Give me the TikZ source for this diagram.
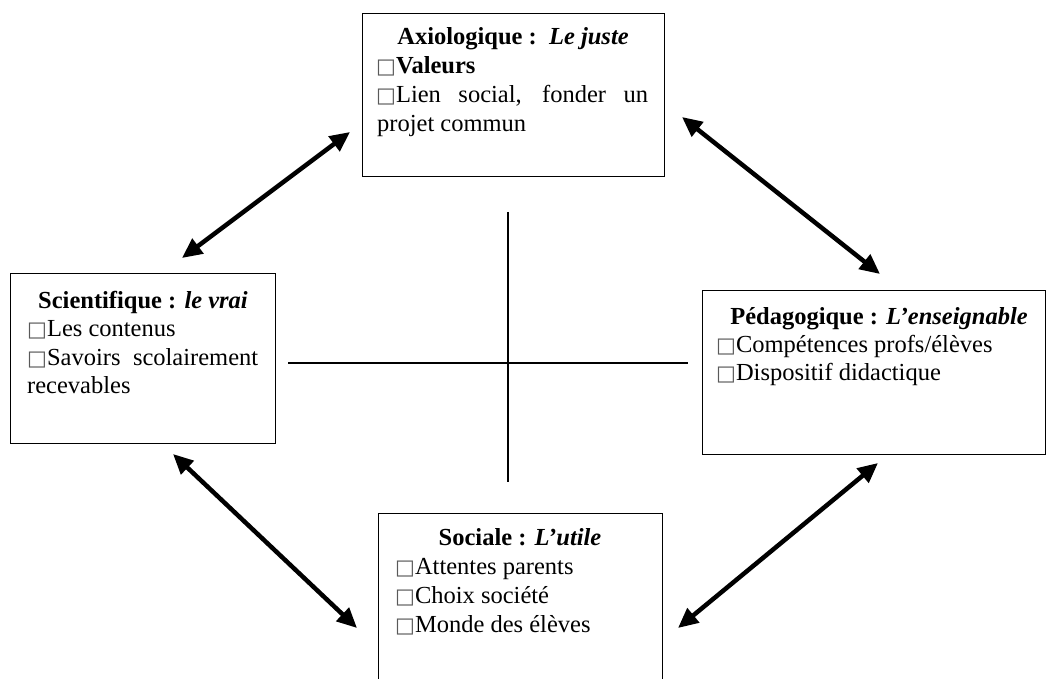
\documentclass[tikz,border=0pt]{standalone}
\usepackage{fontspec}
\setmainfont{Liberation Serif}
\newfontfamily\symfont{DejaVu Sans}
\usetikzlibrary{arrows.meta}
\newcommand{\bx}{{\symfont\fontsize{21}{21}\selectfont\textcolor{black!65}{□}}}
\tikzset{
  boxframe/.style={draw=black, line width=1.4pt, inner sep=0pt, anchor=north west},
  ln/.style={anchor=base west, inner sep=0pt, font=\fontsize{24.5}{28.5}\selectfont},
  ttl/.style={anchor=base, inner sep=0pt, font=\fontsize{24.5}{28.5}\selectfont\bfseries},
  dbl/.style={line width=4.5pt, {Triangle[length=20pt,width=18pt]}-{Triangle[length=20pt,width=18pt]}},
  axisline/.style={line width=1.4pt}
}
\begin{document}
\begin{tikzpicture}[x=1pt,y=-1pt]
\useasboundingbox[fill=white] (0,0) rectangle (1047,679);
\clip (0,0) rectangle (1047,679);
% boxes
\node[boxframe, minimum width=302pt, minimum height=163pt] (axio) at (362,13) {};
\node[boxframe, minimum width=265pt, minimum height=170pt] (scien) at (10,273) {};
\node[boxframe, minimum width=343pt, minimum height=164pt] (peda) at (702,290) {};
\node[boxframe, minimum width=284pt, minimum height=190pt] (soc) at (378,513) {};
% top box text
\node[ttl] (a0) at (513,45) {Axiologique :\ \ \textit{Le juste}};
\node[ln] (a1) at (376,74) {\bx\textbf{Valeurs}};
\node[ln] (a2) at (376,103) {\makebox[272pt][s]{\bx Lien social, fonder un}};
\node[ln] (a3) at (377,132) {projet commun};
% left box text
\node[ttl] (s0) at (143,308) {Scientifique : \textit{le vrai}};
\node[ln] (s1) at (27,336.5) {\bx Les contenus};
\node[ln] (s2) at (27,365) {\makebox[231pt][s]{\bx Savoirs scolairement}};
\node[ln] (s3) at (27,393.5) {recevables};
% right box text
\node[ttl] (p0) at (879,324) {Pédagogique : \textit{L’enseignable}};
\node[ln] (p1) at (716,352) {\bx Compétences profs/élèves};
\node[ln] (p2) at (716,380) {\bx Dispositif didactique};
% bottom box text
\node[ttl] (o0) at (520,545) {Sociale : \textit{L’utile}};
\node[ln] (o1) at (395,574) {\bx Attentes parents};
\node[ln] (o2) at (395,603) {\bx Choix société};
\node[ln] (o3) at (395,632) {\bx Monde des élèves};
% cross
\coordinate (vt) at (508,212);
\coordinate (vb) at (508,482);
\coordinate (hl) at (288,363);
\coordinate (hr) at (688,363);
\draw[axisline] (vt) -- (vb);
\draw[axisline] (hl) -- (hr);
% arrows
\coordinate (tl1) at (350,132);
\coordinate (tl2) at (182,258);
\coordinate (tr1) at (682,117);
\coordinate (tr2) at (880,274);
\coordinate (bl1) at (173,454);
\coordinate (bl2) at (357,628);
\coordinate (br1) at (878,463);
\coordinate (br2) at (678,628);
\draw[dbl] (tl1) -- (tl2);
\draw[dbl] (tr1) -- (tr2);
\draw[dbl] (bl1) -- (bl2);
\draw[dbl] (br1) -- (br2);
\end{tikzpicture}
\end{document}
